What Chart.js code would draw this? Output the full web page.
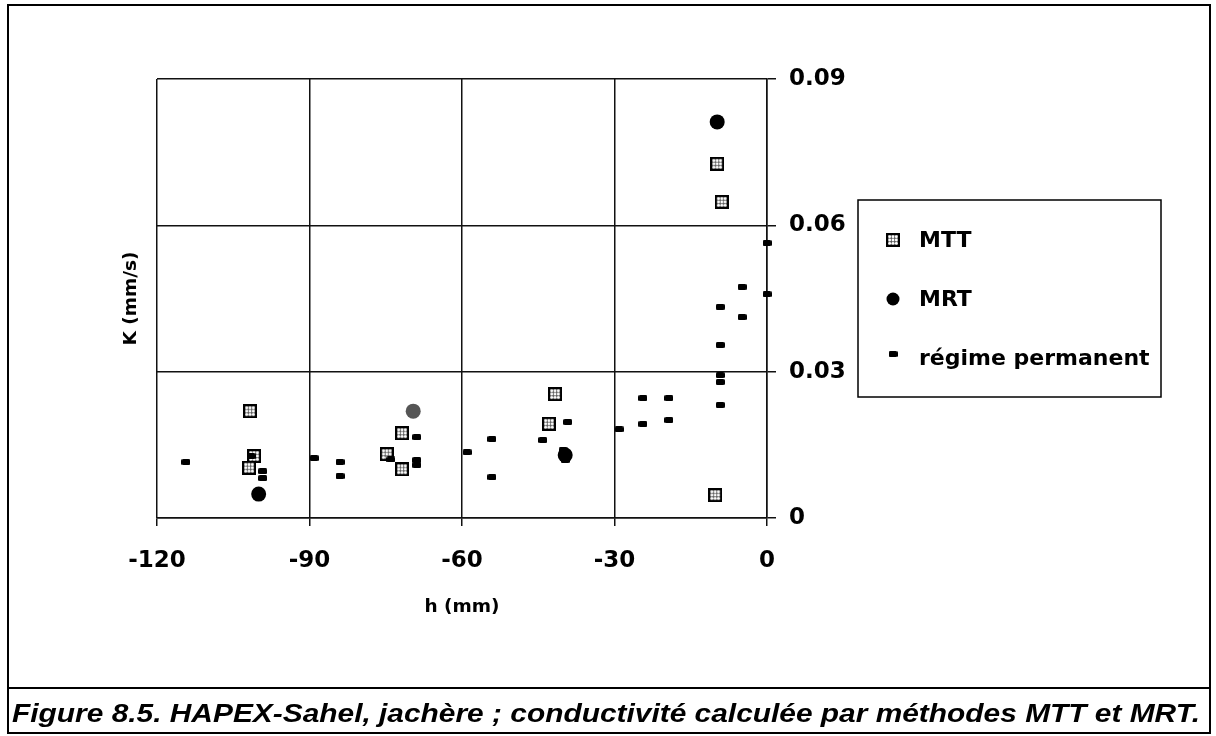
<!DOCTYPE html>
<html lang="fr">
<head>
<meta charset="utf-8">
<title>Figure 8.5 - HAPEX-Sahel, jachère</title>
<script src="https://cdn.jsdelivr.net/npm/chart.js@4.4.1/dist/chart.umd.min.js"></script>
<style>
  html, body { margin: 0; padding: 0; background: #fff; }
  #cadre { width: 1216px; height: 736px; }
</style>
</head>
<body>
<div id="cadre"><canvas id="graficoK" width="1216" height="736"></canvas></div>
<script>
// Valeurs : h en mm, K en mm/s
const mttH = [-101.7, -100.9, -101.9, -71.8, -74.8, -71.8, -41.7, -42.9, -9.8, -8.9, -10.2];
const mttK = [0.0219, 0.0127, 0.0103, 0.0174, 0.0131, 0.0100, 0.0254, 0.0193, 0.0726, 0.0648, 0.0047];

const mrtH = [-100.0, -69.6, -39.7, -9.8];
const mrtK = [0.0049, 0.0219, 0.0129, 0.0812];

const regimeH = [-114.3, -101.5, -99.2, -99.2, -89.1, -84.0, -84.0, -74.0, -68.9, -68.9, -68.9,
                 -59.0, -54.1, -54.1, -44.1, -40.1, -39.7, -39.2, -29.1, -24.4, -19.3, -24.4,
                 -19.3, -9.2, -9.2, -9.2, 0, -4.9, 0, -9.2, -4.9, -9.2];
const regimeK = [0.0115, 0.0127, 0.0096, 0.0082, 0.0123, 0.0115, 0.0086, 0.0120, 0.0166, 0.0119, 0.0109,
                 0.0135, 0.0162, 0.0084, 0.0160, 0.0139, 0.0119, 0.0197, 0.0182, 0.0246, 0.0246, 0.0193,
                 0.0201, 0.0293, 0.0279, 0.0232, 0.0564, 0.0474, 0.0459, 0.0433, 0.0412, 0.0355];

const xTicks = [-120, -90, -60, -30, 0];
const xTickLabels = ['-120', '-90', '-60', '-30', '0'];
const yTicks = [0, 0.03, 0.06, 0.09];
const yTickLabels = ['0', '0.03', '0.06', '0.09'];

const seriesNames = ['MTT', 'MRT', 'régime permanent'];
const caption = 'Figure 8.5. HAPEX-Sahel, jachère ; conductivité calculée par méthodes MTT et MRT.';

const FONT = '"DejaVu Sans", sans-serif';

function toPoints(xs, ys) {
  return xs.map((x, i) => ({ x: x, y: ys[i] }));
}

// Marqueur carré tramé (MTT)
function marqueurMTT(size) {
  const c = document.createElement('canvas');
  c.width = size; c.height = size;
  const g = c.getContext('2d');
  g.fillStyle = '#000';
  g.fillRect(0, 0, size, size);
  g.fillStyle = '#5a5a5a';
  g.fillRect(2, 2, size - 4, size - 4);
  g.fillStyle = '#fff';
  const pas = (size - 4) / 3;
  for (let i = 0; i < 3; i++) {
    for (let j = 0; j < 3; j++) {
      g.beginPath();
      g.arc(2 + pas * (i + 0.5), 2 + pas * (j + 0.5), pas * 0.42, 0, Math.PI * 2);
      g.fill();
    }
  }
  return c;
}

// Petit trait noir (régime permanent)
function marqueurRegime(w, h) {
  const c = document.createElement('canvas');
  c.width = w; c.height = h;
  const g = c.getContext('2d');
  g.fillStyle = '#000';
  g.beginPath();
  g.roundRect(0, 0, w, h, 1.5);
  g.fill();
  return c;
}

const styleMTT = marqueurMTT(14);
const styleRegime = marqueurRegime(9, 6);

// Cadre, légende encadrée et légende de la figure
const decorPlugin = {
  id: 'decor',
  afterDraw(chart) {
    const ctx = chart.ctx;
    ctx.save();
    ctx.strokeStyle = '#000';

    // cadre extérieur
    ctx.lineWidth = 2;
    ctx.strokeRect(8, 5, 1202, 728);
    ctx.beginPath();
    ctx.moveTo(8, 688);
    ctx.lineTo(1210, 688);
    ctx.stroke();

    // légende
    ctx.lineWidth = 1.5;
    ctx.strokeRect(858, 200, 303, 197);
    const rangs = [240, 299, 358];
    ctx.font = 'bold 22px ' + FONT;
    ctx.fillStyle = '#000';
    ctx.textBaseline = 'middle';
    chart.data.datasets.forEach((ds, i) => {
      const y = rangs[i];
      if (ds.pointStyle === 'circle') {
        ctx.beginPath();
        ctx.arc(893, y, 6.5, 0, Math.PI * 2);
        ctx.fill();
      } else {
        const img = ds.pointStyle;
        const dy = i === 2 ? -4 : 0;
        ctx.drawImage(img, 893 - img.width / 2, y + dy - img.height / 2);
      }
      ctx.fillText(ds.label, 919, y + 1);
    });

    // légende de la figure
    ctx.font = 'italic bold 26px "Liberation Sans", Arial, sans-serif';
    ctx.textBaseline = 'alphabetic';
    const largeur = ctx.measureText(caption).width;
    ctx.translate(12, 722);
    ctx.scale(1188 / largeur, 1);
    ctx.fillText(caption, 0, 0);
    ctx.restore();
  }
};

const ctx = document.getElementById('graficoK').getContext('2d');

new Chart(ctx, {
  type: 'scatter',
  data: {
    datasets: [
      {
        label: seriesNames[0],
        data: toPoints(mttH, mttK),
        pointStyle: styleMTT,
        order: 3
      },
      {
        label: seriesNames[1],
        data: toPoints(mrtH, mrtK),
        pointStyle: 'circle',
        pointRadius: 7.5,
        backgroundColor: ['#000', '#555', '#000', '#000'],
        borderWidth: 0,
        order: 2
      },
      {
        label: seriesNames[2],
        data: toPoints(regimeH, regimeK),
        pointStyle: styleRegime,
        order: 1
      }
    ]
  },
  options: {
    responsive: false,
    animation: false,
    events: [],
    clip: false,
    layout: {
      padding: { top: 79, left: 110, right: 0, bottom: 118 }
    },
    plugins: {
      legend: { display: false },
      tooltip: { enabled: false }
    },
    scales: {
      x: {
        type: 'linear',
        min: -120,
        max: 0,
        afterBuildTicks: (s) => { s.ticks = xTicks.map(v => ({ value: v })); },
        afterFit: (s) => { s.height = 100; },
        grid: { color: '#111', lineWidth: 1.5, tickLength: 8 },
        border: { color: '#111', width: 1.5 },
        ticks: {
          color: '#000',
          padding: 21,
          font: { family: FONT, size: 23, weight: 'bold' },
          callback: (v, i) => xTickLabels[i]
        },
        title: {
          display: true,
          text: 'h (mm)',
          color: '#000',
          padding: { top: 0, bottom: 0 },
          font: { family: FONT, size: 18.5, weight: 'bold' }
        }
      },
      y: {
        type: 'linear',
        position: 'right',
        min: 0,
        max: 0.09,
        afterBuildTicks: (s) => { s.ticks = yTicks.map(v => ({ value: v })); },
        afterFit: (s) => { s.width = 1216 - 767; },
        grid: { color: '#111', lineWidth: 1.5, tickLength: 9 },
        border: { color: '#111', width: 1.5 },
        ticks: {
          color: '#000',
          padding: 13,
          font: { family: FONT, size: 23, weight: 'bold' },
          callback: (v, i) => yTickLabels[i]
        }
      },
      yTitre: {
        type: 'linear',
        position: 'left',
        afterFit: (s) => { s.width = 47; },
        grid: { display: false, drawTicks: false },
        border: { display: false },
        ticks: { display: false },
        title: {
          display: true,
          text: 'K (mm/s)',
          color: '#000',
          padding: { top: 10, bottom: 0 },
          font: { family: FONT, size: 18.5, weight: 'bold' }
        }
      }
    }
  },
  plugins: [decorPlugin]
});
</script>
</body>
</html>
